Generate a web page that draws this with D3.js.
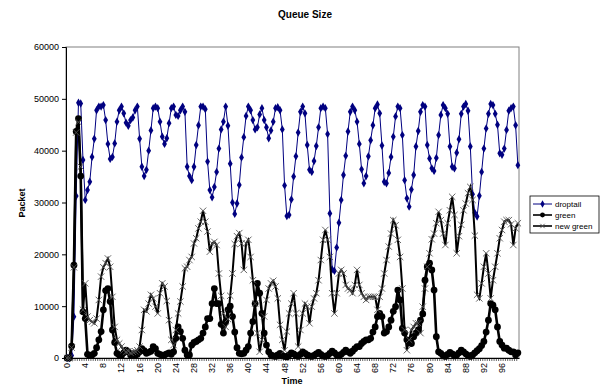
<!DOCTYPE html>
<html>
<head>
<meta charset="utf-8">
<script src="https://cdn.jsdelivr.net/npm/d3@7"></script>
<style>
  body { margin: 0; background: #fff; }
  text { font-family: Arial, "Liberation Sans", sans-serif; }
</style>
</head>
<body>
<script>
// time categories (every half second), x tick labels every 4 s
const times = d3.range(0, 100, 0.5);
const xTickLabels = [0, 4, 8, 12, 16, 20, 24, 28, 32, 36, 40, 44, 48, 52, 56, 60, 64, 68, 72, 76, 80, 84, 88, 92, 96];
const yTicks = [0, 10000, 20000, 30000, 40000, 50000, 60000];
const seriesNames = ["droptail", "green", "new green"];

const droptail = [
  0, 0, 500, 7970, 31250, 49250, 49100, 38200, 30500, 32400,
  34000, 38800, 42300, 47800, 48500, 48500, 48800, 45900, 41300, 38400,
  38800, 41400, 45600, 47800, 48500, 47200, 45400, 44800, 45900, 46400,
  47800, 48500, 42300, 36900, 35100, 36300, 40000, 43900, 48200, 48500,
  48200, 45600, 42700, 41300, 42400, 45300, 48200, 48500, 46900, 46700,
  47800, 48500, 47500, 36900, 35100, 34300, 36900, 41100, 44900, 48500,
  48500, 48000, 37900, 32400, 31000, 33000, 35900, 40400, 44100, 45600,
  48500, 44800, 37500, 30000, 27800, 29800, 33400, 38700, 42600, 46700,
  48500, 47800, 45900, 44100, 44500, 47000, 48200, 45900, 44500, 42400,
  43900, 45600, 48200, 48400, 47800, 44100, 33300, 27400, 27600, 30600,
  35000, 38900, 43500, 47500, 48500, 47200, 41100, 36300, 35900, 38000,
  40900, 44500, 48200, 48500, 48200, 43200, 27900, 17100, 16800, 21300,
  26100, 30500, 35300, 39000, 43700, 47500, 48500, 47800, 45600, 41300,
  36400, 33700, 35100, 38900, 42000, 44900, 48200, 48900, 47200, 41000,
  34000, 33700, 35700, 38800, 42700, 46600, 48500, 48200, 43000, 34300,
  30800, 29200, 32500, 35300, 40800, 43800, 47500, 48800, 48500, 41100,
  38500, 36600, 36100, 38600, 43000, 46900, 48800, 48200, 47100, 40800,
  36900, 36600, 39600, 42200, 47100, 48500, 49000, 47700, 40800, 31600,
  28000, 27300, 31300, 35900, 40400, 44300, 47100, 49000, 48800, 47100,
  45000, 39500, 39200, 40400, 44000, 47700, 48200, 48500, 44900, 37200
];

const green = [
  0, 0, 2300, 17900, 43700, 46200, 35100, 8900, 7600, 700,
  500, 600, 900, 2000, 3500, 5100, 9300, 13000, 13400, 10900,
  5400, 3000, 900, 600, 500, 1000, 1500, 1200, 600, 800,
  500, 700, 1200, 1800, 1400, 900, 1100, 1300, 2200, 1800,
  900, 700, 500, 600, 800, 1000, 700, 1200, 3800, 6000,
  5100, 3800, 1500, 600, 600, 2500, 3000, 3200, 3500, 3800,
  4800, 6000, 7600, 7600, 10500, 13400, 10500, 10500, 6500, 4800,
  7000, 9300, 10000, 8000, 5000, 2000, 900, 800, 900, 1500,
  2200, 4800, 7000, 10500, 14400, 12500, 8600, 4800, 2500, 1200,
  600, 400, 300, 600, 900, 500, 300, 200, 600, 1000,
  800, 500, 300, 700, 1200, 900, 600, 400, 300, 500,
  800, 1100, 700, 400, 300, 500, 900, 1300, 1000, 600,
  400, 700, 1100, 1500, 1200, 900, 1300, 1800, 2200, 2200,
  2800, 3200, 3500, 3500, 3800, 5000, 6000, 8000, 8600, 8000,
  4800, 5100, 6000, 7300, 9000, 9900, 13100, 11200, 5700, 4800,
  3500, 3000, 2800, 4100, 4800, 5400, 7300, 8500, 15000, 17600,
  18300, 17000, 13100, 4100, 1200, 900, 500, 300, 700, 1100,
  800, 400, 600, 1000, 1500, 1200, 800, 500, 300, 600,
  1000, 1400, 1800, 2400, 3200, 5000, 7300, 10500, 10200, 9300,
  6000, 3200, 2500, 1900, 1900, 1500, 1200, 1200, 600, 1000
];

const newGreen = [
  0, 0, 2000, 17500, 43500, 45500, 36900, 9300, 14400, 8000,
  7300, 7000, 6700, 7600, 11200, 15700, 17500, 18300, 19200, 17600,
  11800, 6000, 3500, 2800, 2200, 1500, 1200, 1300, 1000, 1200,
  1300, 1500, 2200, 5400, 9300, 9000, 10500, 12200, 11500, 9900,
  8600, 12500, 14400, 13800, 11000, 7300, 3500, 2500, 5400, 8600,
  10900, 13800, 17300, 17600, 18900, 19500, 22100, 23100, 25000, 26300,
  28400, 26300, 24400, 20500, 22100, 22400, 21800, 16300, 12000, 8600,
  6000, 7500, 12000, 16300, 22000, 23500, 24100, 22100, 17000, 22100,
  22800, 19500, 15000, 10500, 4800, 1200, 3500, 8000, 11200, 13400,
  14400, 14900, 13800, 11500, 6400, 3500, 1500, 5100, 8600, 10500,
  12500, 8600, 2200, 5400, 8600, 10500, 9900, 6700, 9900, 11500,
  12500, 15000, 18900, 22800, 24700, 22800, 19500, 12500, 8600, 12500,
  16300, 17000, 16300, 14100, 13400, 13100, 12500, 14100, 17000, 14100,
  12500, 11800, 11200, 11800, 11800, 11800, 11800, 9300, 11800, 13400,
  16300, 18900, 21500, 24000, 26600, 25600, 22800, 19500, 13400, 5400,
  1500, 3500, 5400, 6000, 6700, 6700, 4800, 9900, 13400, 17600,
  20200, 22900, 24000, 26000, 28200, 26600, 24000, 21800, 26000, 28500,
  31100, 27600, 20200, 23500, 25700, 28500, 29800, 31800, 33000, 30500,
  23600, 12200, 11500, 14400, 17600, 20200, 16300, 11500, 15000, 17600,
  20200, 23100, 24700, 26300, 26600, 26600, 25800, 21800, 25000, 26000
];

const W = 604, H = 388;
const plot = {left: 66, right: 519, top: 47, bottom: 358};

const svg = d3.select("body").append("svg")
  .attr("width", W)
  .attr("height", H);

const x = d3.scaleBand().domain(times).range([plot.left, plot.right]);
const y = d3.scaleLinear().domain([0, 60000]).range([plot.bottom, plot.top]);
const cx = t => x(t) + x.bandwidth() / 2;

// plot border (gray top / right)
svg.append("rect")
  .attr("x", plot.left).attr("y", plot.top)
  .attr("width", plot.right - plot.left).attr("height", plot.bottom - plot.top)
  .attr("fill", "none").attr("stroke", "#808080").attr("stroke-width", 1);

// title
svg.append("text")
  .attr("x", 305).attr("y", 18)
  .attr("text-anchor", "middle")
  .style("font-size", "10px").style("font-weight", "bold")
  .text("Queue Size");

// y axis
const yAxis = d3.axisLeft(y).tickValues(yTicks).tickSize(4).tickPadding(3).tickFormat(d3.format("d"));
const gy = svg.append("g")
  .attr("transform", "translate(" + plot.left + ",0)")
  .call(yAxis);
gy.select(".domain").attr("stroke", "#000");
gy.selectAll("text").style("font-size", "9px").style("font-family", "Arial, 'Liberation Sans', sans-serif");

// x axis: tick on every category boundary, labels every 4 s
const xAxis = d3.axisBottom(x).tickValues([]).tickSizeOuter(0);
const gx = svg.append("g")
  .attr("transform", "translate(0," + plot.bottom + ")")
  .call(xAxis);
gx.select(".domain").attr("stroke", "#000");
gx.selectAll(".cat-tick").data(times).enter().append("line")
  .attr("class", "cat-tick")
  .attr("x1", d => x(d)).attr("x2", d => x(d))
  .attr("y1", 0).attr("y2", 3)
  .attr("stroke", "#000").attr("stroke-width", 0.6);
gx.selectAll(".xlab").data(xTickLabels).enter().append("text")
  .attr("class", "xlab")
  .attr("transform", d => "translate(" + (cx(d) + 3) + ",5) rotate(-90)")
  .attr("text-anchor", "end")
  .attr("fill", "#000")
  .style("font-size", "9px")
  .text(d => d);

// axis titles
svg.append("text")
  .attr("transform", "translate(25,203) rotate(-90)")
  .attr("text-anchor", "middle")
  .style("font-size", "9px").style("font-weight", "bold")
  .text("Packet");
svg.append("text")
  .attr("x", 292).attr("y", 384)
  .attr("text-anchor", "middle")
  .style("font-size", "9px").style("font-weight", "bold")
  .text("Time");

const line = d3.line().x(d => cx(d.t)).y(d => y(d.v));
const pts = arr => times.map((t, i) => ({t: t, v: arr[i]}));

// droptail
svg.append("path").datum(pts(droptail))
  .attr("d", line).attr("fill", "none")
  .attr("stroke", "#000080").attr("stroke-width", 1);
svg.append("g").selectAll("path").data(pts(droptail)).enter().append("path")
  .attr("transform", d => "translate(" + cx(d.t) + "," + y(d.v) + ")")
  .attr("d", d3.symbol().type(d3.symbolDiamond).size(20))
  .attr("fill", "#000080");

// green
svg.append("path").datum(pts(green))
  .attr("d", line).attr("fill", "none")
  .attr("stroke", "#000").attr("stroke-width", 2.6);
svg.append("g").selectAll("circle").data(pts(green)).enter().append("circle")
  .attr("cx", d => cx(d.t)).attr("cy", d => y(d.v)).attr("r", 3.4)
  .attr("fill", "#000");

// new green
svg.append("path").datum(pts(newGreen))
  .attr("d", line).attr("fill", "none")
  .attr("stroke", "#000").attr("stroke-width", 2);
svg.append("g").selectAll("path").data(pts(newGreen)).enter().append("path")
  .attr("transform", d => "translate(" + cx(d.t) + "," + y(d.v) + ")")
  .attr("d", "M-3.2,-3.2L3.2,3.2M-3.2,3.2L3.2,-3.2")
  .attr("stroke", "#555").attr("stroke-width", 0.9).attr("fill", "none");

// legend
const legend = svg.append("g").attr("transform", "translate(530,196)");
legend.append("rect")
  .attr("width", 69).attr("height", 37)
  .attr("fill", "#fff").attr("stroke", "#000").attr("stroke-width", 0.8);
const items = legend.selectAll(".item").data(seriesNames).enter().append("g")
  .attr("class", "item")
  .attr("transform", (d, i) => "translate(0," + (8 + i * 11) + ")");
items.append("line")
  .attr("x1", 3).attr("x2", 22).attr("y1", 0).attr("y2", 0)
  .attr("stroke", (d, i) => i === 0 ? "#000080" : "#000")
  .attr("stroke-width", (d, i) => i === 0 ? 1 : 1.6);
items.each(function(d, i) {
  const g = d3.select(this);
  if (i === 0) {
    g.append("path").attr("transform", "translate(12.5,0)")
      .attr("d", d3.symbol().type(d3.symbolDiamond).size(16)).attr("fill", "#000080");
  } else if (i === 1) {
    g.append("circle").attr("cx", 12.5).attr("cy", 0).attr("r", 2.4).attr("fill", "#000");
  } else {
    g.append("path").attr("transform", "translate(12.5,0)")
      .attr("d", "M-2.2,-2.2L2.2,2.2M-2.2,2.2L2.2,-2.2")
      .attr("stroke", "#555").attr("stroke-width", 0.9);
  }
});
items.append("text")
  .attr("x", 25).attr("y", 3)
  .style("font-size", "8px")
  .text(d => d);
</script>
</body>
</html>
